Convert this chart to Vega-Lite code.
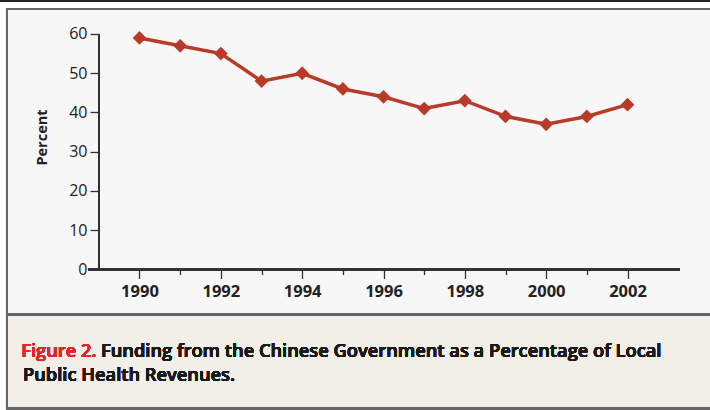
{
  "$schema": "https://vega.github.io/schema/vega-lite/v6.json",
  "width": 710,
  "height": 410,
  "autosize": {"type": "none"},
  "padding": 0,
  "background": "#ffffff",
  "config": {
    "view": {"stroke": null},
    "font": "Open Sans"
  },
  "data": {
    "values": [
      {"year": 1990, "percent": 59},
      {"year": 1991, "percent": 57},
      {"year": 1992, "percent": 55},
      {"year": 1993, "percent": 48},
      {"year": 1994, "percent": 50},
      {"year": 1995, "percent": 46},
      {"year": 1996, "percent": 44},
      {"year": 1997, "percent": 41},
      {"year": 1998, "percent": 43},
      {"year": 1999, "percent": 39},
      {"year": 2000, "percent": 37},
      {"year": 2001, "percent": 39},
      {"year": 2002, "percent": 42}
    ]
  },
  "layer": [
    {
      "mark": {"type": "rect", "fill": "#f7f7f7"},
      "encoding": {
        "x": {"datum": 1986.7418, "type": "quantitative"},
        "x2": {"datum": 2004.0286},
        "y": {"datum": 66.369, "type": "quantitative"},
        "y2": {"datum": -11.465}
      }
    },
    {
      "mark": {"type": "rect", "fill": "#f2eee8"},
      "encoding": {
        "x": {"datum": 1986.7418, "type": "quantitative"},
        "x2": {"datum": 2004.0286},
        "y": {"datum": -11.465, "type": "quantitative"},
        "y2": {"datum": -35.414}
      }
    },
    {
      "mark": {"type": "rule", "color": "#666666", "strokeWidth": 2},
      "encoding": {
        "x": {"datum": 1986.7418, "type": "quantitative"},
        "y": {"datum": 66.369, "type": "quantitative"},
        "y2": {"datum": -35.414}
      }
    },
    {
      "mark": {"type": "rule", "color": "#666666", "strokeWidth": 2},
      "encoding": {
        "x": {"datum": 1986.7172, "type": "quantitative"},
        "x2": {"datum": 2004.0286},
        "y": {"datum": 66.369, "type": "quantitative"}
      }
    },
    {
      "mark": {"type": "rule", "color": "#666666", "strokeWidth": 2.5},
      "encoding": {
        "x": {"datum": 1986.7172, "type": "quantitative"},
        "x2": {"datum": 2004.0286},
        "y": {"datum": -11.465, "type": "quantitative"}
      }
    },
    {
      "mark": {"type": "rule", "color": "#666666", "strokeWidth": 3},
      "encoding": {
        "x": {"datum": 1986.7172, "type": "quantitative"},
        "x2": {"datum": 2004.0286},
        "y": {"datum": -35.414, "type": "quantitative"}
      }
    },
    {
      "mark": {"type": "rule", "color": "#222222", "strokeWidth": 2},
      "encoding": {
        "x": {"datum": 1986.5697, "type": "quantitative"},
        "x2": {"datum": 2004.0286},
        "y": {"datum": 68.407, "type": "quantitative"}
      }
    },
    {
      "mark": {"type": "rule", "color": "#333333", "strokeWidth": 1.3},
      "encoding": {
        "x": {"datum": 1988.7336, "type": "quantitative"},
        "x2": {"datum": 2003.29},
        "y": {"datum": 0, "type": "quantitative"}
      }
    },
    {
      "mark": {"type": "rule", "color": "#333333", "strokeWidth": 1.3},
      "encoding": {
        "x": {"datum": 1988.9967, "type": "quantitative"},
        "y": {"datum": 0, "type": "quantitative"},
        "y2": {"datum": 60}
      }
    },
    {
      "mark": {"type": "line", "color": "#b93b27", "strokeWidth": 3.5},
      "encoding": {
        "x": {
          "field": "year",
          "type": "quantitative",
          "scale": {"domain": [1986.5697, 2004.0286], "nice": false, "zero": false},
          "axis": {
            "orient": "bottom",
            "offset": -140.5,
            "zindex": 1,
            "title": null,
            "domain": false,
            "grid": false,
            "values": [1990, 1991, 1992, 1993, 1994, 1995, 1996, 1997, 1998, 1999, 2000, 2001, 2002],
            "format": "d",
            "labelExpr": "datum.value % 2 == 0 ? datum.label : ''",
            "tickSize": {"condition": {"test": "datum.value % 2 == 0", "value": 9}, "value": 5},
            "tickColor": "#333333",
            "tickWidth": 1.3,
            "labelFontSize": 16.5,
            "labelFontWeight": "bold",
            "labelColor": "#222222",
            "labelPadding": 5,
            "labelBaseline": "top"
          }
        },
        "y": {
          "field": "percent",
          "type": "quantitative",
          "scale": {"domain": [-35.796, 68.662], "nice": false, "zero": false},
          "axis": {
            "orient": "left",
            "offset": -98.7,
            "zindex": 1,
            "title": "Percent",
            "domain": false,
            "grid": false,
            "values": [0, 10, 20, 30, 40, 50, 60],
            "tickSize": 8.7,
            "tickColor": "#333333",
            "tickWidth": 1.3,
            "labelFontSize": 16,
            "labelColor": "#222222",
            "labelPadding": 3,
            "titleFontSize": 14.5,
            "titleFontWeight": "bold",
            "titleColor": "#222222",
            "titleAngle": -90,
            "titleAlign": "center",
            "titleBaseline": "alphabetic",
            "titleX": -52,
            "titleY": 137
          }
        }
      }
    },
    {
      "mark": {"type": "point", "shape": "diamond", "filled": true, "size": 190, "color": "#b93b27", "opacity": 1},
      "encoding": {
        "x": {"field": "year", "type": "quantitative"},
        "y": {"field": "percent", "type": "quantitative"}
      }
    },
    {
      "mark": {"type": "text", "text": "Figure 2.", "align": "right", "baseline": "alphabetic", "fontSize": 18.3, "fontWeight": 600, "color": "#e4232c"},
      "encoding": {
        "x": {"datum": 1988.9426, "type": "quantitative"},
        "y": {"datum": -22.293, "type": "quantitative"}
      }
    },
    {
      "mark": {"type": "text", "text": "Funding from the Chinese Government as a Percentage of Local", "align": "left", "baseline": "alphabetic", "fontSize": 18.3, "fontWeight": 600, "color": "#1a1a1a"},
      "encoding": {
        "x": {"datum": 1989.0533, "type": "quantitative"},
        "y": {"datum": -22.293, "type": "quantitative"}
      }
    },
    {
      "mark": {"type": "text", "text": "Public Health Revenues.", "align": "left", "baseline": "alphabetic", "fontSize": 18.3, "fontWeight": 600, "color": "#1a1a1a"},
      "encoding": {
        "x": {"datum": 1987.1353, "type": "quantitative"},
        "y": {"datum": -28.408, "type": "quantitative"}
      }
    }
  ]
}
